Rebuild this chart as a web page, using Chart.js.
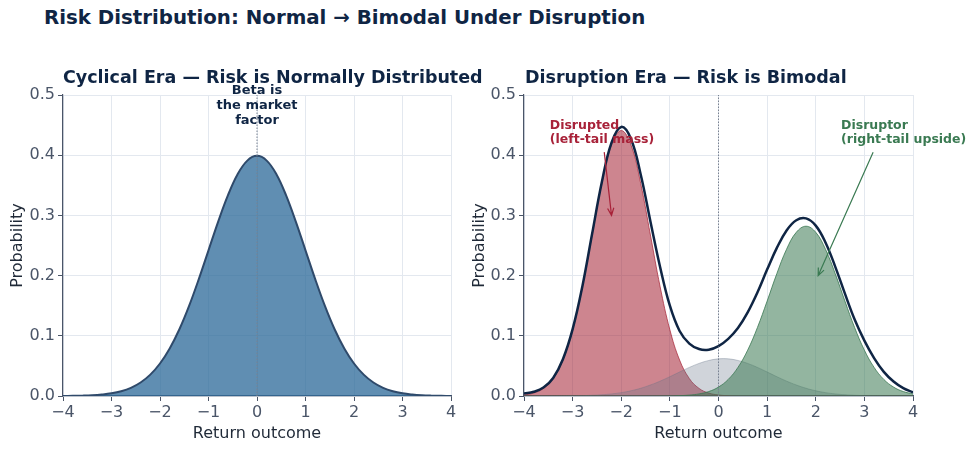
<!DOCTYPE html>
<html>
<head>
<meta charset="utf-8">
<script src="https://cdn.jsdelivr.net/npm/chart.js@4.4.0/dist/chart.umd.min.js"></script>
<style>
  body { margin: 0; background: #fff; width: 975px; height: 451px; overflow: hidden; position: relative; font-family: "DejaVu Sans", sans-serif; }
  #mainTitle { position: absolute; left: 44px; top: 6px; font-size: 19.8px; font-weight: bold; color: #0f2544; white-space: nowrap; }
  .sub { position: absolute; top: 67px; font-size: 17.5px; font-weight: bold; color: #0f2544; white-space: nowrap; }
  .panel { position: absolute; top: 55px; height: 396px; }
  #left { left: 0; width: 470px; }
  #right { left: 460px; width: 515px; }
</style>
</head>
<body>
<div id="mainTitle">Risk Distribution: Normal → Bimodal Under Disruption</div>
<div class="panel" id="left"><canvas id="leftChart"></canvas></div>
<div class="panel" id="right"><canvas id="rightChart"></canvas></div>
<div class="sub" style="left:63px">Cyclical Era — Risk is Normally Distributed</div>
<div class="sub" style="left:525px">Disruption Era — Risk is Bimodal</div>
<script>
// return outcome grid (x axis)
const outcomes = [-4, -3.8, -3.6, -3.4, -3.2, -3, -2.8, -2.6, -2.4, -2.2, -2, -1.8, -1.6, -1.4, -1.2, -1, -0.8, -0.6, -0.4, -0.2,
  0, 0.2, 0.4, 0.6, 0.8, 1, 1.2, 1.4, 1.6, 1.8, 2, 2.2, 2.4, 2.6, 2.8, 3, 3.2, 3.4, 3.6, 3.8, 4];

// cyclical era - single bell
const normalProb = [0.0001, 0.0003, 0.0006, 0.0012, 0.0024, 0.0044, 0.0079, 0.0136, 0.0224, 0.0355, 0.0540, 0.0790, 0.1109, 0.1497, 0.1942, 0.2420, 0.2897, 0.3332, 0.3683, 0.3910,
  0.3989, 0.3910, 0.3683, 0.3332, 0.2897, 0.2420, 0.1942, 0.1497, 0.1109, 0.0790, 0.0540, 0.0355, 0.0224, 0.0136, 0.0079, 0.0044, 0.0024, 0.0012, 0.0006, 0.0003, 0.0001];

// disruption era - components and total
const disruptedProb = [0.0017, 0.0049, 0.0126, 0.0290, 0.0597, 0.1100, 0.1813, 0.2675, 0.3531, 0.4172, 0.4410, 0.4172, 0.3531, 0.2675, 0.1813, 0.1100, 0.0597, 0.0290, 0.0126, 0.0049,
  0.0017, 0.0005, 0.0001, 0, 0, 0, 0, 0, 0, 0, 0, 0, 0, 0, 0, 0, 0, 0, 0, 0, 0];
const middleProb = [0, 0, 0, 0.0001, 0.0002, 0.0003, 0.0006, 0.0012, 0.0021, 0.0035, 0.0056, 0.0087, 0.0129, 0.0183, 0.0247, 0.0321, 0.0399, 0.0475, 0.0541, 0.0590,
  0.0617, 0.0617, 0.0590, 0.0541, 0.0475, 0.0399, 0.0321, 0.0247, 0.0183, 0.0129, 0.0087, 0.0056, 0.0035, 0.0021, 0.0012, 0.0006, 0.0003, 0.0002, 0.0001, 0, 0];
const disruptorProb = [0, 0, 0, 0, 0, 0, 0, 0, 0, 0, 0, 0, 0, 0, 0.0001, 0.0002, 0.0006, 0.0015, 0.0035, 0.0074,
  0.0148, 0.0275, 0.0475, 0.0762, 0.1136, 0.1576, 0.2033, 0.2438, 0.2719, 0.2820, 0.2719, 0.2438, 0.2033, 0.1576, 0.1136, 0.0762, 0.0475, 0.0275, 0.0148, 0.0074, 0.0035];
const totalProb = [0.004, 0.007, 0.014, 0.030, 0.061, 0.111, 0.182, 0.269, 0.355, 0.421, 0.447, 0.427, 0.368, 0.290, 0.214, 0.150, 0.108, 0.087, 0.078, 0.077,
  0.083, 0.095, 0.113, 0.139, 0.172, 0.210, 0.246, 0.275, 0.292, 0.295, 0.283, 0.255, 0.215, 0.170, 0.127, 0.092, 0.063, 0.040, 0.024, 0.013, 0.006];

const xTicks = [-4, -3, -2, -1, 0, 1, 2, 3, 4];
const yTicks = [0, 0.1, 0.2, 0.3, 0.4, 0.5];

const FONT = '"DejaVu Sans", sans-serif';
const NAVY = '#0f2544';
const TICK = '#4a5568';
const GRID = '#e3e8ef';

const pts = (ys) => outcomes.map((x, i) => ({ x: x, y: ys[i] }));

function area(data, line, fill, width, order) {
  return {
    data: pts(data), borderColor: line, backgroundColor: fill, borderWidth: width,
    fill: 'origin', pointRadius: 0, tension: 0.4, order: order
  };
}

function zeroLine() {
  return {
    data: [{ x: 0, y: 0 }, { x: 0, y: 0.5 }], borderColor: '#7a8290', borderWidth: 1,
    borderDash: [1.5, 1.5], pointRadius: 0, fill: false, tension: 0, order: 0
  };
}

function scales(yWidth, titlePad) {
  return {
    x: {
      type: 'linear', min: -4, max: 4,
      afterBuildTicks: (s) => { s.ticks = xTicks.map(v => ({ value: v })); },
      afterFit: (s) => { s.height = 50; },
      ticks: {
        color: TICK, font: { family: FONT, size: 16 }, padding: 2, maxRotation: 0,
        callback: (v) => String(v).replace('-', '\u2212')
      },
      grid: { color: GRID, tickColor: TICK, tickLength: 5 },
      border: { color: TICK, width: 1.2 },
      title: { display: true, text: 'Return outcome', color: '#1f2937', font: { family: FONT, size: 16 }, padding: { top: 0, bottom: 3 } }
    },
    y: {
      min: 0, max: 0.5,
      afterBuildTicks: (s) => { s.ticks = yTicks.map(v => ({ value: v })); },
      afterFit: (s) => { s.width = yWidth; },
      ticks: { color: TICK, font: { family: FONT, size: 16 }, padding: 3, callback: (v) => v.toFixed(1) },
      grid: { color: GRID, tickColor: TICK, tickLength: 5 },
      border: { color: TICK, width: 1.2 },
      title: { display: true, text: 'Probability', color: '#1f2937', font: { family: FONT, size: 16 }, padding: { top: titlePad, bottom: 0 } }
    }
  };
}

// text notes placed in data coordinates
function notesPlugin(notes) {
  return {
    id: 'notes',
    afterDraw(chart) {
      const { ctx, scales: { x, y } } = chart;
      ctx.save();
      notes.forEach(n => {
        ctx.font = 'bold ' + n.size + 'px ' + FONT;
        ctx.fillStyle = n.color;
        ctx.textAlign = n.align;
        ctx.textBaseline = 'middle';
        n.lines.forEach((t, i) => ctx.fillText(t, x.getPixelForValue(n.x), y.getPixelForValue(n.y) + i * n.gap));
        if (n.arrow) {
          const [x0, y0, x1, y1] = n.arrow;
          const ax = x.getPixelForValue(x0), ay = y.getPixelForValue(y0);
          const bx = x.getPixelForValue(x1), by = y.getPixelForValue(y1);
          ctx.strokeStyle = n.color;
          ctx.lineWidth = 1.2;
          ctx.beginPath();
          ctx.moveTo(ax, ay);
          ctx.lineTo(bx, by);
          const ang = Math.atan2(by - ay, bx - ax);
          ctx.moveTo(bx - 8 * Math.cos(ang - 0.4), by - 8 * Math.sin(ang - 0.4));
          ctx.lineTo(bx, by);
          ctx.lineTo(bx - 8 * Math.cos(ang + 0.4), by - 8 * Math.sin(ang + 0.4));
          ctx.stroke();
        }
      });
      ctx.restore();
    }
  };
}

Chart.defaults.font.family = FONT;

new Chart(document.getElementById('leftChart'), {
  type: 'line',
  data: {
    datasets: [
      zeroLine(),
      area(normalProb, '#2f4a6b', 'rgba(46,106,154,0.76)', 2, 1)
    ]
  },
  options: {
    responsive: true, maintainAspectRatio: false, animation: false,
    layout: { padding: { left: 0, right: 19, top: 40, bottom: 5 } },
    plugins: { legend: { display: false }, tooltip: { enabled: false } },
    scales: scales(63, 8)
  },
  plugins: [notesPlugin([
    { lines: ['Beta is', 'the market', 'factor'], x: 0, y: 0.507, size: 13, gap: 15, color: NAVY, align: 'center' }
  ])]
});

new Chart(document.getElementById('rightChart'), {
  type: 'line',
  data: {
    datasets: [
      zeroLine(),
      area(totalProb, NAVY, 'rgba(0,0,0,0)', 2.5, 1),
      area(disruptorProb, 'rgba(59,120,82,0.8)', 'rgba(59,120,82,0.55)', 1, 2),
      area(middleProb, 'rgba(98,112,132,0.35)', 'rgba(98,112,132,0.3)', 1, 3),
      area(disruptedProb, 'rgba(164,33,51,0.7)', 'rgba(164,33,51,0.55)', 1, 4)
    ]
  },
  options: {
    responsive: true, maintainAspectRatio: false, animation: false,
    layout: { padding: { left: 0, right: 62, top: 40, bottom: 5 } },
    plugins: { legend: { display: false }, tooltip: { enabled: false } },
    scales: scales(64, 10)
  },
  plugins: [notesPlugin([
    { lines: ['Disrupted', '(left-tail mass)'], x: -3.47, y: 0.449, size: 12.5, gap: 14, color: '#a82239', align: 'left', arrow: [-2.35, 0.405, -2.2, 0.3] },
    { lines: ['Disruptor', '(right-tail upside)'], x: 2.52, y: 0.449, size: 12.5, gap: 14, color: '#3a7a52', align: 'left', arrow: [3.18, 0.405, 2.05, 0.2] }
  ])]
});
</script>
</body>
</html>
